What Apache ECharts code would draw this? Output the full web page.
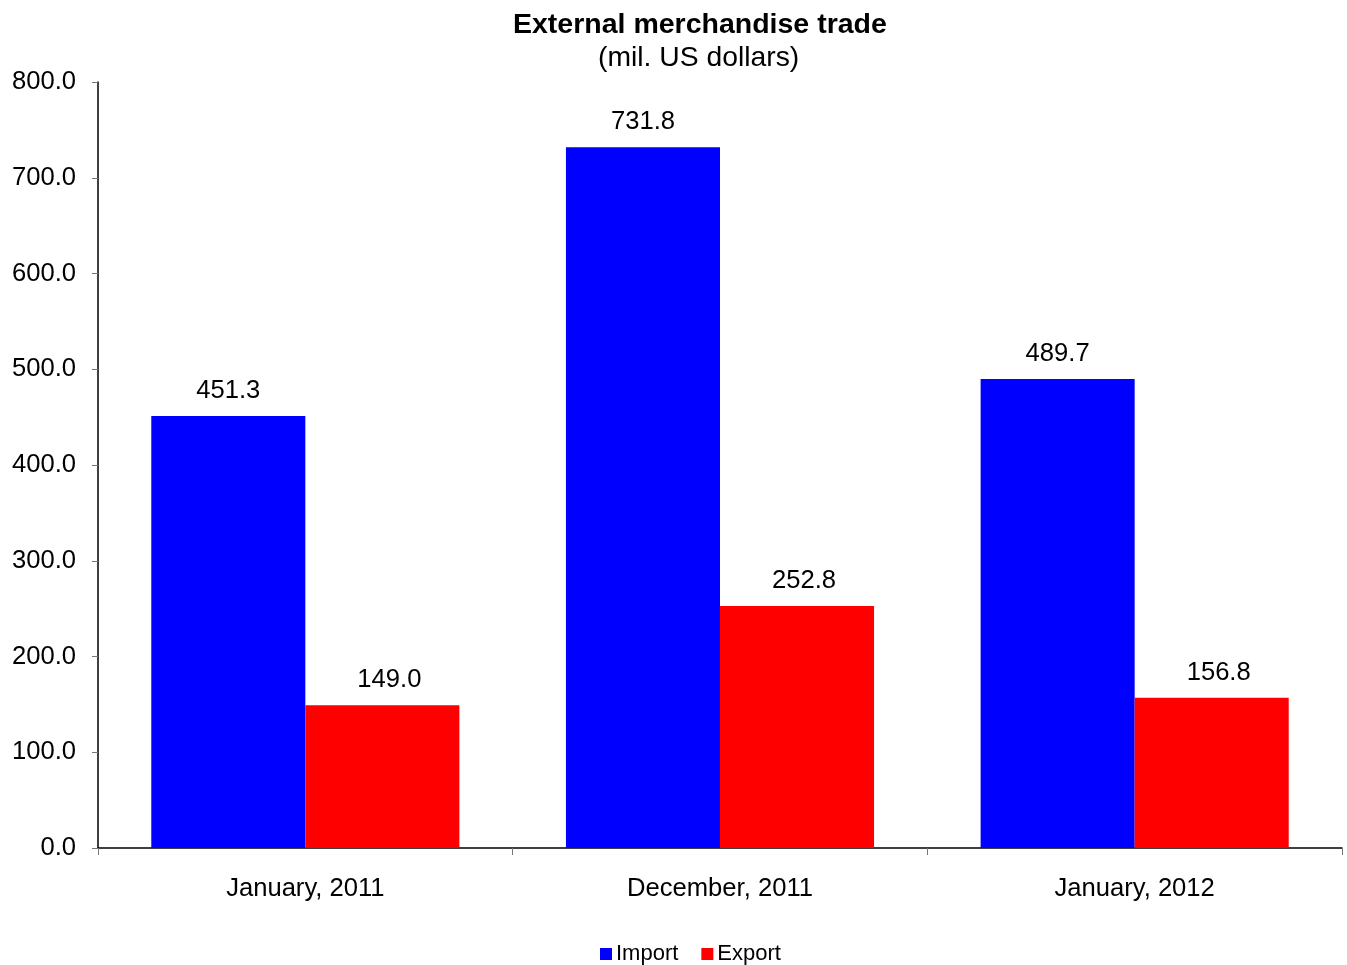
<!DOCTYPE html>
<html>
<head>
<meta charset="utf-8">
<script src="https://cdn.jsdelivr.net/npm/echarts@6/dist/echarts.min.js"></script>
<style>html,body{margin:0;padding:0;background:#fff}#c{width:1347px;height:965px}</style>
</head>
<body>
<div id="c"></div>
<script>
const categories = ['January, 2011', 'December, 2011', 'January, 2012'];
const importValues = [451.3, 731.8, 489.7];
const exportValues = [149.0, 252.8, 156.8];
const seriesNames = ['Import', 'Export'];
const titleText = 'External merchandise trade';
const subtitleText = '(mil. US dollars)';

const FONT = '"Liberation Sans", Arial, sans-serif';
const chart = echarts.init(document.getElementById('c'));
function labelCfg(dx) {
  return {
    show: true, position: 'top', distance: 12, offset: [dx, 0],
    fontFamily: FONT, fontSize: 25.6, color: '#000',
    formatter: p => p.value.toFixed(1)
  };
}
chart.setOption({
  animation: false,
  textStyle: { fontFamily: FONT },
  title: [
    { text: titleText, left: 508, top: 6,
      textStyle: { fontFamily: FONT, fontSize: 28.5, fontWeight: 'bold', color: '#000' } },
    { text: subtitleText, left: 593, top: 39,
      textStyle: { fontFamily: FONT, fontSize: 28.3, fontWeight: 'normal', color: '#000' } }
  ],
  legend: {
    data: seriesNames, top: 938, left: 595,
    icon: 'rect', itemWidth: 12, itemHeight: 12, itemGap: 23,
    textStyle: { fontFamily: FONT, fontSize: 22, color: '#000', padding: [0, 0, 0, -1] }
  },
  grid: { left: 98, right: 5, top: 82, bottom: 117, containLabel: false },
  xAxis: {
    type: 'category', data: categories,
    axisLine: { lineStyle: { color: '#000', width: 1.5 } },
    axisTick: { show: true, length: 7, lineStyle: { color: '#777' } },
    axisLabel: { fontFamily: FONT, fontSize: 25.6, color: '#000', margin: 28 }
  },
  yAxis: {
    type: 'value', min: 0, max: 800, interval: 100,
    splitLine: { show: false },
    axisLine: { show: true, lineStyle: { color: '#000', width: 1.5 } },
    axisTick: { show: true, length: 6, lineStyle: { color: '#777' } },
    axisLabel: { fontFamily: FONT, fontSize: 25.6, color: '#000', margin: 22,
      formatter: v => v.toFixed(1) }
  },
  series: [
    { name: seriesNames[0], type: 'bar', data: importValues, barGap: '0%', barCategoryGap: '25.7%',
      itemStyle: { color: '#0000FF' }, label: labelCfg(0) },
    { name: seriesNames[1], type: 'bar', data: exportValues,
      itemStyle: { color: '#FF0000' }, label: labelCfg(7) }
  ]
});
</script>
</body>
</html>
